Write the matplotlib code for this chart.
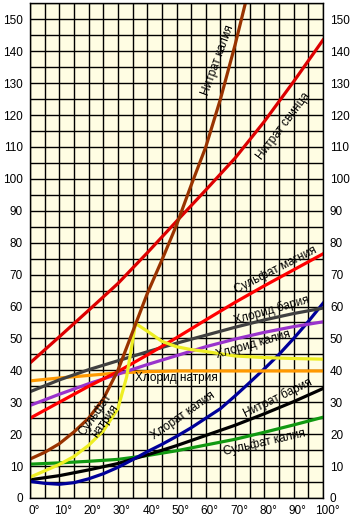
import matplotlib
matplotlib.use("Agg")
import matplotlib.pyplot as plt
from matplotlib.transforms import ScaledTranslation

plt.rcParams['font.family'] = ['Liberation Sans', 'DejaVu Sans']

# ---- data (g per 100 g water vs temperature) ----
t_kno3 = [0, 5, 10, 15, 20, 25, 30, 35, 40, 45, 50, 55, 60, 65, 70, 73.5]
s_kno3 = [12.2, 14.3, 17, 20.7, 25, 31, 40, 52, 64, 74.5, 85.5, 98, 110, 125, 142, 155]

t_10 = [0, 10, 20, 30, 40, 50, 60, 70, 80, 90, 100]
s_pbno3 = [42.3, 50.5, 58.8, 67.2, 76.8, 86.7, 96.5, 106.5, 118, 130.5, 143.5]
s_mgso4 = [25, 30, 35, 39.6, 44.8, 50.2, 55.8, 61.3, 66.5, 71.5, 76.5]
s_bacl2 = [33.3, 37, 40.2, 43, 45.8, 48.5, 51, 53.5, 55.8, 57.8, 59.5]
s_kcl = [29, 32.5, 35.8, 38.8, 41.8, 44.6, 47.4, 49.8, 51.9, 53.7, 55.2]
s_nacl = [36.7, 37.6, 38.4, 39.2, 39.6, 39.8, 39.8, 39.8, 39.8, 39.8, 39.8]
s_bano3 = [5.7, 7, 8.8, 10.8, 13.5, 16.4, 19.6, 22.8, 26.4, 30.2, 34.3]
s_k2so4 = [10.6, 11, 11.5, 12.1, 13.3, 14.8, 16.6, 18.4, 20.6, 22.9, 25.3]

t_na2so4 = [0, 5, 10, 15, 20, 25, 30, 33, 36, 40, 45, 50, 55, 60, 70, 80, 90, 100]
s_na2so4 = [6.5, 8.5, 10.5, 13, 16.5, 21, 28, 38, 54.7, 52.3, 49.1, 47.4, 46.5, 45.9, 44.5, 44, 43.7, 43.5]

t_kclo3 = [0, 5, 10, 15, 20, 25, 30, 35, 40, 45, 50, 55, 60, 65, 70, 75, 80, 85, 90, 95, 100]
s_kclo3 = [5.2, 4.6, 4.3, 4.8, 6, 7.6, 9.6, 12, 14.5, 16.8, 19.3, 22, 25, 28, 32, 36.2, 40.5, 45, 50, 55.3, 61]

x_ticks = [0, 10, 20, 30, 40, 50, 60, 70, 80, 90, 100]
x_labels = ["0°", "10°", "20°", "30°", "40°", "50°", "60°", "70°", "80°", "90°", "100°"]
y_ticks = [0, 10, 20, 30, 40, 50, 60, 70, 80, 90, 100, 110, 120, 130, 140, 150]

# ---- figure ----
W, H = 360, 517
fig = plt.figure(figsize=(W / 100, H / 100), dpi=100)
ax = fig.add_axes([30 / W, (H - 498) / H, (323 - 30) / W, (498 - 3.3) / H])
ax.set_facecolor('#FFFDE3')
ax.set_xlim(0, 100)
ax.set_ylim(0, 155)

# grid every 5 units
for gx in range(0, 101, 5):
    ax.axvline(gx, color='black', lw=1.0, zorder=1)
for gy in range(0, 156, 5):
    ax.axhline(gy, color='black', lw=1.0, zorder=1)

lw = 2.3
ax.plot(t_10, s_k2so4, color='#119911', lw=lw, zorder=3)
ax.plot(t_10, s_bano3, color='black', lw=lw, zorder=3)
ax.plot(t_kclo3, s_kclo3, color='#000099', lw=lw, zorder=3)
ax.plot(t_10, s_nacl, color='#FF9900', lw=lw, zorder=3)
ax.plot(t_10, s_kcl, color='#9933CC', lw=lw, zorder=3)
ax.plot(t_10, s_bacl2, color='#404040', lw=lw, zorder=3)
ax.plot(t_10, s_mgso4, color='#FF0000', lw=lw, zorder=3)
ax.plot(t_na2so4, s_na2so4, color='#EEEE22', lw=lw, zorder=4)
ax.plot(t_10, s_pbno3, color='#DD0000', lw=lw, zorder=3)
ax.plot(t_kno3, s_kno3, color='#993300', lw=lw, zorder=5)

# curve labels
fs = 8.5
labels = [
    ("Нитрат калия", 64.3, 137.2, 70),
    ("Нитрат свинца", 86.5, 116.5, 53),
    ("Сульфат магния", 84.0, 71.4, 27),
    ("Хлорид бария", 82.3, 58.9, 16),
    ("Хлорид калия", 76.1, 47.9, 16),
    ("Хлорид натрия", 49.8, 37.6, 0),
    ("Сульфат\nнатрия", 23.9, 25.0, 55),
    ("Хлорат калия", 52.2, 25.7, 35),
    ("Нитрат бария", 84.6, 31.3, 26),
    ("Сульфат калия", 79.9, 17.2, 13),
]
for txt, x, y, rot in labels:
    ax.text(x, y, txt, rotation=rot, rotation_mode='anchor', ha='center', va='center',
            fontsize=fs, color='black', zorder=6, linespacing=0.95)

# axes / ticks
ax.set_xticks(x_ticks)
ax.set_xticklabels(x_labels)
ax.set_yticks(y_ticks)
ax.set_yticklabels([str(v) for v in y_ticks])
ax.tick_params(axis='both', length=0, labelsize=fs)
ax.tick_params(axis='x', pad=5)
ax.tick_params(axis='y', pad=5, labelleft=True, labelright=True)
off = ScaledTranslation(4 / 100, 0, fig.dpi_scale_trans)
for lab in ax.get_xticklabels():
    lab.set_transform(lab.get_transform() + off)
for sp in ax.spines.values():
    sp.set_color('black')
    sp.set_linewidth(1.0)
    sp.set_zorder(7)
ax.grid(False)

fig.savefig('out.png', dpi=100, facecolor='white')
